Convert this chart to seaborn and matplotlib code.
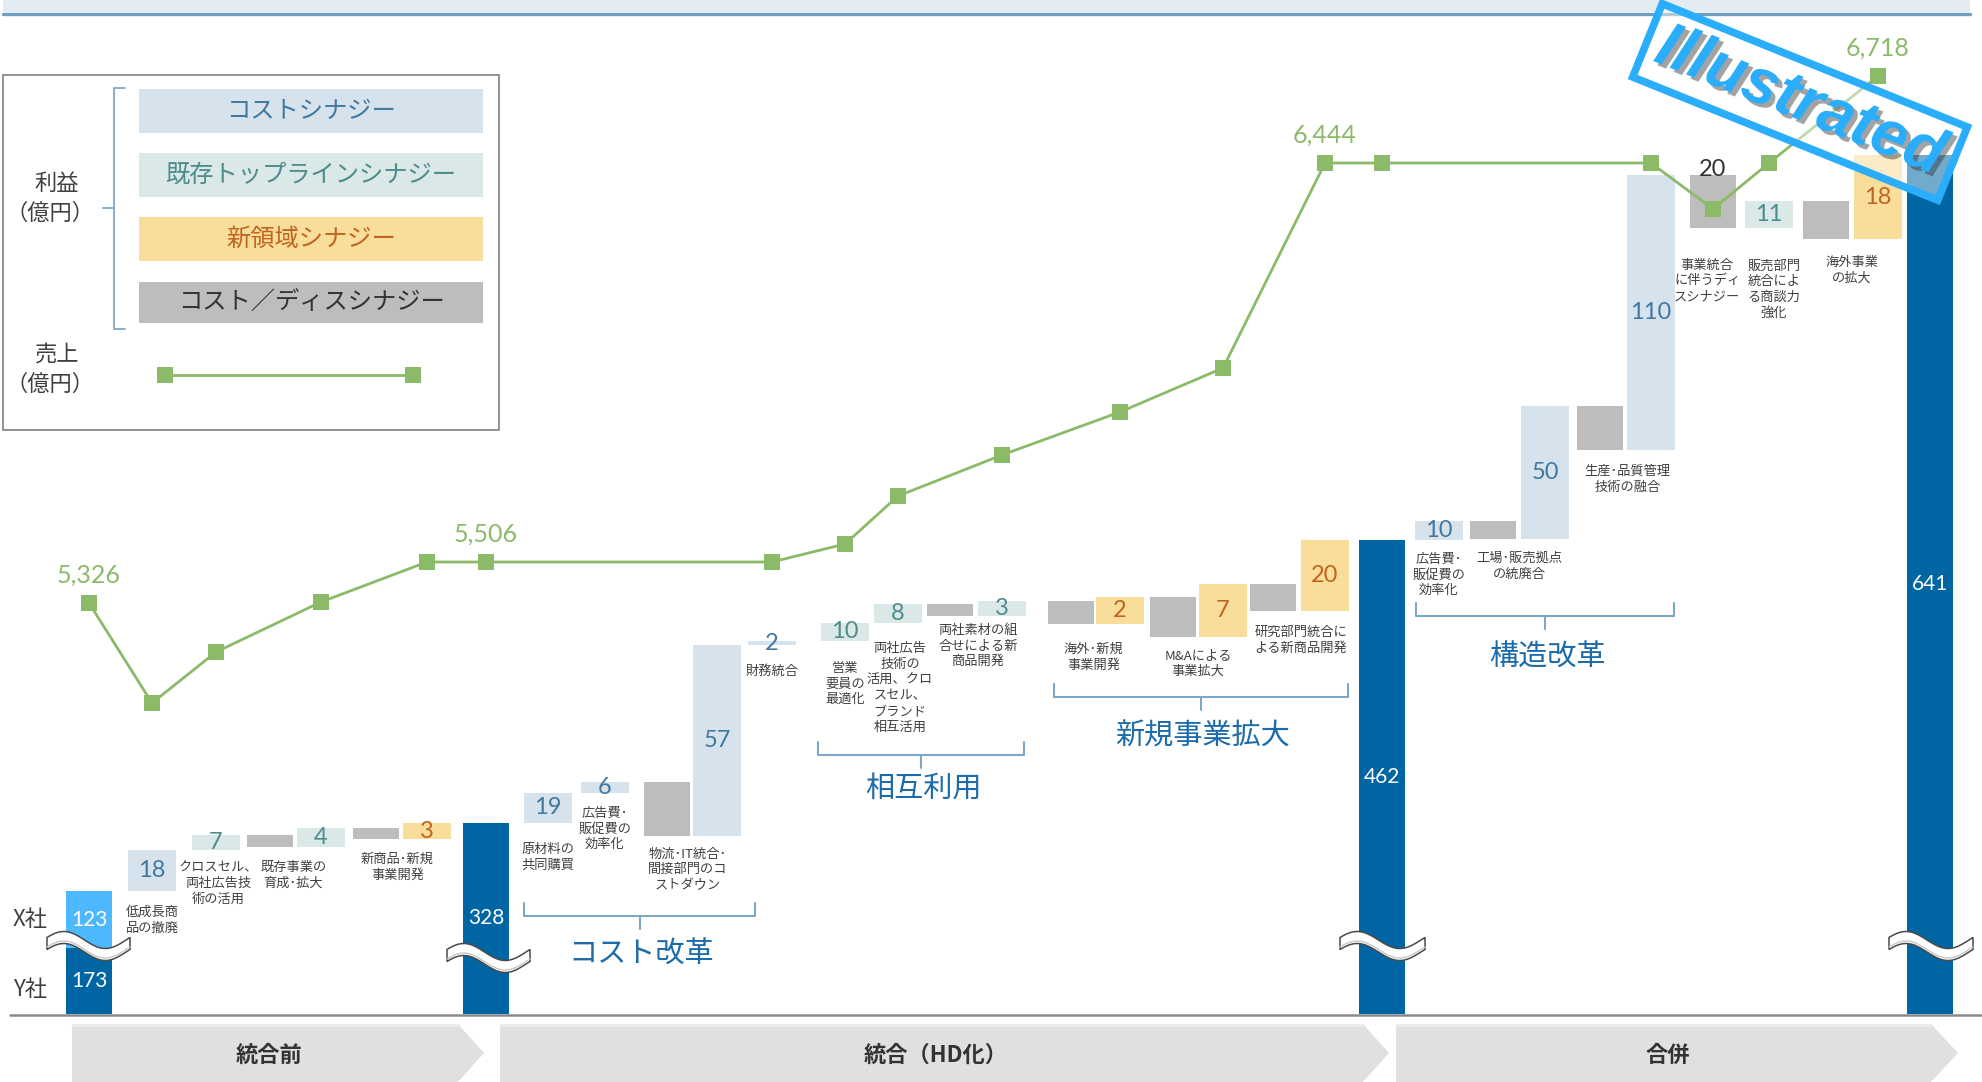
import numpy as np
import matplotlib
matplotlib.use('Agg')
import matplotlib.pyplot as plt
import seaborn as sns
from matplotlib.patches import Rectangle, Polygon
import matplotlib.patheffects as pe

# ---------------- data ----------------
bar_kind = ['start', 'cost', 'top', 'dis', 'top', 'dis', 'new', 'total',
            'cost', 'cost', 'dis', 'cost', 'cost', 'top', 'top', 'dis', 'top',
            'dis', 'new', 'dis', 'new', 'dis', 'new', 'total',
            'cost', 'dis', 'cost', 'dis', 'cost', 'dis', 'top', 'dis', 'new', 'total']
profit_text = ['', '18', '7', '', '4', '', '3', '328',
               '19', '6', '', '57', '2', '10', '8', '', '3',
               '', '2', '', '7', '', '20', '462',
               '10', '', '50', '', '110', '20', '11', '', '18', '641']
# the chart is "illustrated" (not to scale): drawn step heights
visual_step = [123, 41, 15, -12, 19, -11, 16, 0,
               30, 11, -54, 191, 4, 18, 19, -12, 15,
               -23, 27, -40, 53, -27, 71, 0,
               19, -18, 133, -44, 275, -53, 27, -38, 84, 0]
start_companies = ['Y社', 'X社']
start_values = ['173', '123']
start_visual = [66, 57]

sales_bar_index = [0, 1, 2, 4, 6, 7, 12, 13, 14, 16, 18, 20, 22, 23, 28, 29, 30, 32]
sales_visual = [411, 311, 362, 412, 452, 452, 452, 470, 518, 559, 602, 646,
                851, 851, 851, 805, 851, 938]
sales_label_text = ['5,326', '5,506', '6,444', '6,718']
sales_label_point = [0, 5, 12, 17]

category_texts = ['低成長商\n品の撤廃', 'クロスセル、\n両社広告技\n術の活用', '既存事業の\n育成･拡大',
                  '新商品･新規\n事業開発', '原材料の\n共同購買', '広告費･\n販促費の\n効率化',
                  '物流･IT統合･\n間接部門のコ\nストダウン', '財務統合', '営業\n要員の\n最適化',
                  '両社広告\n技術の\n活用、クロ\nスセル、\nブランド\n相互活用',
                  '両社素材の組\n合せによる新\n商品開発', '海外･新規\n事業開発', 'M&Aによる\n事業拡大',
                  '研究部門統合に\nよる新商品開発', '広告費･\n販促費の\n効率化', '工場･販売拠点\nの統廃合',
                  '生産･品質管理\n技術の融合', '事業統合\nに伴うディ\nスシナジー',
                  '販売部門\n統合によ\nる商談力\n強化', '海外事業\nの拡大']
section_names = ['コスト改革', '相互利用', '新規事業拡大', '構造改革']
phase_names = ['統合前', '統合（HD化）', '合併']
legend_names = ['コストシナジー', '既存トップラインシナジー', '新領域シナジー', 'コスト／ディスシナジー']

# ---------------- layout (pixels of the 1983x1082 picture) ----------------
W, H = 1983, 1082
BASE = 1014  # baseline row
bar_x = [89, 152, 216, 270, 321, 376, 427, 486, 548, 605, 667, 717, 772, 845, 898, 950,
         1002, 1071, 1120, 1173, 1223, 1273, 1325, 1382, 1439, 1493, 1545, 1600, 1651,
         1713, 1769, 1826, 1878, 1930]
category_layout = [((1,), 910, 0), ((2,), 865, 2), ((3, 4), 865, -2), ((5, 6), 857, -4),
                   ((8,), 847, 0), ((9,), 810, 0), ((10, 11), 851, -4), ((12,), 670, 0),
                   ((13,), 665, 0), ((14,), 643, 2), ((15, 16), 627, 2), ((17, 18), 647, -2),
                   ((19, 20), 653, 0), ((21, 22), 630, 2), ((24,), 556, 0), ((25, 26), 556, 0),
                   ((27, 28), 469, 2), ((29,), 262, -6), ((30,), 262, 5), ((31, 32), 260, 0)]
LINE_STEP = 16.6
bracket_layout = [(524, 755, 916, 955), (818, 1024, 755, 790),
                  (1054, 1348, 697, 737), (1416, 1674, 616, 658)]
phase_layout = [(72, 458, 484), (500, 1363, 1389), (1396, 1931, 1958)]
wave_layout = [(0, 47, 130, 946), (7, 447, 530, 958), (23, 1340, 1425, 946), (33, 1889, 1973, 946)]

FILL = {'cost': '#D6E3ED', 'top': '#DAE8E8', 'new': '#F8DE9A', 'dis': '#BDBDBD',
        'total': '#0065A3', 'start': '#0065A3'}
TXT = {'cost': '#41789F', 'top': '#4E8C8C', 'new': '#C0651F', 'dis': '#333333',
       'total': 'white', 'start': 'white'}
GREEN = '#8BBA69'
SECTION_BLUE = '#1C6BAA'
BRACKET = '#7DA7C6'
X_LIGHT = '#4DB8FF'

sns.set_theme(style='white')
plt.rcParams['font.family'] = ['Noto Sans CJK JP', 'DejaVu Sans']
NUM = ['Lato', 'DejaVu Sans']


def L(y_px):
    return BASE - np.asarray(y_px, dtype=float)


fig = plt.figure(figsize=(W / 100, H / 100), dpi=100)
ax = fig.add_axes([0, 0, 1, 1])
ax.set_xlim(0, W)
ax.set_ylim(BASE - H, BASE)
ax.axis('off')

# ---------------- header band ----------------
ax.add_patch(Rectangle((3, L(12)), 1967, 12, fc='#E3EBF3', ec='none', zorder=1))
ax.plot([3, 1970], [L(13.5), L(13.5)], color='#6E9FBF', lw=2.4, zorder=1)

# ---------------- waterfall ----------------
level = 0
bottoms, heights = [], []
for k, step in zip(bar_kind, visual_step):
    if k == 'start':
        level = step
        bottoms.append(0)
        heights.append(step)
    elif k == 'total':
        bottoms.append(0)
        heights.append(level)
    else:
        bottoms.append(level)
        heights.append(step)
        level += step

widths = [48 if k in ('cost', 'top', 'new') else 46 for k in bar_kind]
colors = [FILL[k] for k in bar_kind]
idx = [i for i, k in enumerate(bar_kind) if k != 'start']
ax.bar([bar_x[i] for i in idx], [heights[i] for i in idx], bottom=[bottoms[i] for i in idx],
       width=[widths[i] for i in idx], color=[colors[i] for i in idx], linewidth=0, zorder=2)

# start bar: stacked Y社 / X社
i0 = bar_kind.index('start')
sb = 0
for comp, val, vis, col in zip(start_companies, start_values, start_visual, [FILL['start'], X_LIGHT]):
    ax.bar(bar_x[i0], vis, bottom=sb, width=widths[i0], color=col, linewidth=0, zorder=2)
    ax.text(bar_x[i0], sb + vis / 2, val, ha='center', va='center', color='white',
            fontsize=15, family=NUM, zorder=6)
    sb += vis
ax.text(30, L(920), start_companies[1], ha='center', va='center', fontsize=16, color='#404040')
ax.text(30, L(990), start_companies[0], ha='center', va='center', fontsize=16, color='#404040')

# value labels
for i, (k, t) in enumerate(zip(bar_kind, profit_text)):
    if not t or k == 'start':
        continue
    if k == 'dis':
        y = max(bottoms[i], bottoms[i] + heights[i]) + 5
    else:
        y = bottoms[i] + heights[i] / 2
    ax.text(bar_x[i], y, t, ha='center', va='center', color=TXT[k],
            fontsize=15 if k == 'total' else 17, family=NUM, zorder=6)

# axis-break waves
for bi, xl, xr, yc in wave_layout:
    t = np.linspace(0, 1, 80)
    xs = xl + t * (xr - xl)
    top = yc - 6 - 8.5 * np.sin(2 * np.pi * t + 0.3)
    bot = top + 12
    pts = np.column_stack([np.r_[xs, xs[::-1]], np.r_[L(top), L(bot[::-1])]])
    ax.add_patch(Polygon(pts, closed=True, fc='white', ec='#4a4a4a', lw=1.1, zorder=4))
    ax.plot(xs, L(bot - 2.5), color='#c8c8c8', lw=1.0, zorder=4)

# baseline
ax.plot([10, W], [L(1015), L(1015)], color='#8a8a8a', lw=1.8, zorder=3)

# category labels (baseline of the last line is used for multi-line text)
for text, (bars, y1, dx) in zip(category_texts, category_layout):
    xc = np.mean([bar_x[b] for b in bars]) + dx
    n = text.count('\n')
    ax.text(xc, L(y1 + 5 + n * LINE_STEP), text, ha='center', va='baseline', fontsize=9.5,
            color='#404040', linespacing=1.28, zorder=6)

# section brackets
for name, (xl, xr, yb, yt) in zip(section_names, bracket_layout):
    xc = (xl + xr) / 2
    ax.plot([xl, xl, xr, xr], [L(yb - 13), L(yb), L(yb), L(yb - 13)], color=BRACKET, lw=1.5, zorder=3)
    ax.plot([xc, xc], [L(yb), L(yb + 13)], color=BRACKET, lw=1.5, zorder=3)
    ax.text(xc + 2, L(yt), name, ha='center', va='center', fontsize=21, color=SECTION_BLUE, zorder=6)

# ---------------- sales line ----------------
sx = [bar_x[i] for i in sales_bar_index]
sns.lineplot(x=sx, y=sales_visual, ax=ax, color=GREEN, linewidth=2.0, marker='s',
             markersize=11, markeredgewidth=0, sort=False, legend=False, zorder=7)
for lab, p in zip(sales_label_text, sales_label_point):
    ax.text(sx[p], sales_visual[p] + 28, lab, ha='center', va='center', color=GREEN,
            fontsize=18, family=NUM, zorder=7)

# ---------------- legend ----------------
ax.add_patch(Rectangle((3, L(430)), 496, 355, fc='white', ec='#808080', lw=1.2, zorder=1))
leg_rows = [(89, 133), (153, 197), (217, 261), (282, 323)]
for name, kind, (y0, y1) in zip(legend_names, ['cost', 'top', 'new', 'dis'], leg_rows):
    ax.add_patch(Rectangle((139, L(y1)), 344, y1 - y0, fc=FILL[kind], ec='none', zorder=2))
    ax.text(311, L((y0 + y1) / 2), name, ha='center', va='center', fontsize=17.5,
            color=TXT[kind], zorder=3)
ax.plot([125, 114, 114, 125], [L(88), L(88), L(329), L(329)], color=BRACKET, lw=1.3, zorder=2)
ax.plot([103, 114], [L(208), L(208)], color=BRACKET, lw=1.3, zorder=2)
ax.text(57, L(183), '利益', ha='center', va='center', fontsize=16, color='#404040')
ax.text(50, L(213), '（億円）', ha='center', va='center', fontsize=16, color='#404040')
ax.text(57, L(354), '売上', ha='center', va='center', fontsize=16, color='#404040')
ax.text(50, L(384), '（億円）', ha='center', va='center', fontsize=16, color='#404040')
ax.plot([165, 413], [L(375), L(375)], color=GREEN, lw=2.0, marker='s', markersize=11,
        markeredgewidth=0, zorder=3)

# ---------------- phase chevrons ----------------
for name, (x0, x1, tip) in zip(phase_names, phase_layout):
    pts = [(x0, L(1024)), (x1, L(1024)), (tip, L(1053)), (x1, L(1082)), (x0, L(1082))]
    ax.add_patch(Polygon(pts, closed=True, fc='#E0E0E0', ec='none', zorder=1))
    ax.plot([x0, x1], [L(1025), L(1025)], color='#EDEDED', lw=2, zorder=1)
    ax.text((x0 + x1) / 2 + 4, L(1055), name, ha='center', va='center', fontsize=16,
            fontweight='bold', color='#333333', zorder=2)

# ---------------- "Illustrated" stamp ----------------
STAMP = '#2AADFA'
cx, cy = 1800, L(102)
ax.add_patch(Rectangle((cx - 164.5, cy - 39.5), 329, 79, angle=-22, rotation_point='center',
                       fc=(1, 1, 1, 0.45), ec=STAMP, lw=5.5, zorder=10))
ax.text(cx, cy, 'Illustrated', ha='center', va='center', rotation=-22, rotation_mode='anchor',
        fontsize=46, fontweight='bold', fontstyle='italic', family=['Liberation Sans', 'DejaVu Sans'],
        color=STAMP, zorder=11,
        path_effects=[pe.SimplePatchShadow(offset=(3, -3), shadow_rgbFace='#333333', alpha=0.45),
                      pe.Normal()])

fig.savefig('out.png', dpi=100)
